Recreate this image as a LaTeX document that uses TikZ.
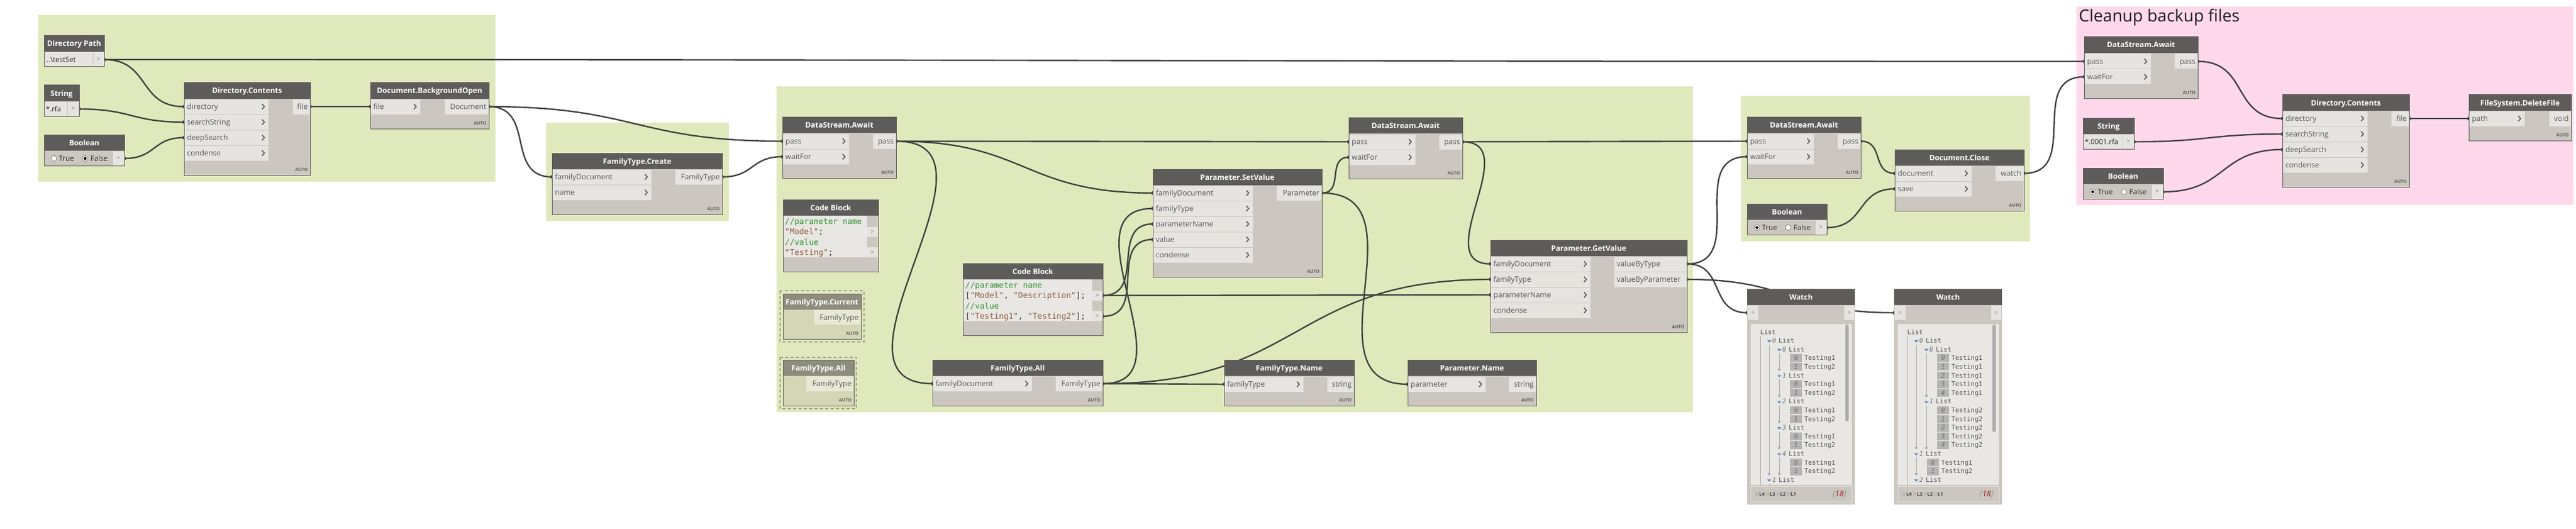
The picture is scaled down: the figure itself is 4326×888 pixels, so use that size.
\documentclass[tikz,border=0pt]{standalone}
\usepackage{fontspec}
\setmainfont{Open Sans}
\setmonofont{DejaVu Sans Mono}
\usetikzlibrary{calc}
\pgfdeclarelayer{grp}
\pgfdeclarelayer{wires}
\pgfsetlayers{grp,wires,main}

\definecolor{grpgreen}{RGB}{224,233,188}
\definecolor{grppink}{RGB}{255,217,235}
\definecolor{hdr}{RGB}{94,92,90}
\definecolor{bdy}{RGB}{203,198,191}
\definecolor{prt}{RGB}{229,228,224}
\definecolor{ptxt}{RGB}{85,85,85}
\definecolor{wirec}{RGB}{64,64,64}
\definecolor{codebg}{RGB}{233,231,228}
\definecolor{cgreen}{RGB}{46,150,46}
\definecolor{cbrown}{RGB}{140,90,55}
\definecolor{fzhdr}{RGB}{142,141,125}
\definecolor{fzbdy}{RGB}{213,214,181}
\definecolor{fzprt}{RGB}{231,232,214}
\definecolor{fzdash}{RGB}{155,156,138}
\definecolor{idxbox}{RGB}{180,180,180}
\definecolor{tric}{RGB}{90,140,200}
\definecolor{darkred}{RGB}{165,20,20}
\definecolor{tlinec}{RGB}{170,170,170}

\tikzset{
  headtext/.style={text=white, font=\bfseries\fontsize{12.5}{14}\selectfont, inner sep=0pt},
  porttext/.style={text=ptxt, font=\fontsize{12.5}{14}\selectfont, inner sep=0pt},
  valtext/.style={text=black!85, font=\fontsize{12}{14}\selectfont, inner sep=0pt},
  gttext/.style={text=black!55, font=\fontsize{10}{12}\selectfont, inner sep=0pt},
  autotext/.style={text=hdr, font=\bfseries\fontsize{7.5}{8}\selectfont, inner sep=0pt},
  chev/.style={draw=ptxt, line width=1.6pt},
  wire/.style={draw=wirec, line width=2.4pt},
  nborder/.style={draw=hdr, line width=1pt},
  codetext/.style={text=black!80, font=\ttfamily\fontsize{13.4}{15}\selectfont, inner sep=0pt},
  wtext/.style={text=ptxt, font=\ttfamily\fontsize{10.8}{12}\selectfont, inner sep=0pt},
  widx/.style={text=black!55, font=\ttfamily\itshape\fontsize{10.8}{12}\selectfont, inner sep=0pt},
  tline/.style={draw=tlinec, line width=1pt},
  radio/.style={circle, draw=black!60, fill=white, minimum size=9.5pt, inner sep=0pt, line width=0.6pt},
}

% node body with header
\newcommand{\NodeBox}[6]{%
  \fill[bdy] (#2,#3) rectangle (#4,#5);
  \fill[hdr] (#2,#3) rectangle (#4,#3+27);
  \node[headtext, anchor=base] (#1) at ({(#2+#4)/2},#3+18) {#6};
}
\newcommand{\NodeFrame}[4]{\draw[nborder] (#1,#2) rectangle (#3,#4);}
\newcommand{\InPort}[5]{%
  \fill[prt] (#2+1,#3-12.5) rectangle (#4,#3+12.5);
  \node[porttext, anchor=base west] (#1-l) at (#2+5,#3+4.5) {#5};
  \draw[chev] (#4-11,#3-4.5) -- (#4-7,#3) -- (#4-11,#3+4.5);
  \coordinate (#1) at (#2,#3);
}
\newcommand{\OutPort}[5]{%
  \fill[prt] (#2,#3-12.5) rectangle (#4-1,#3+12.5);
  \node[porttext, anchor=base east] (#1-l) at (#4-4,#3+4.5) {#5};
  \coordinate (#1) at (#4,#3);
}
\newcommand{\OutPortL}[5]{%
  \fill[prt] (#2,#3-12.5) rectangle (#4-1,#3+12.5);
  \node[porttext, anchor=base west] (#1-l) at (#2+4,#3+4.5) {#5};
  \coordinate (#1) at (#4,#3);
}
\newcommand{\AutoTag}[3]{\node[autotext, anchor=base east] (#1) at (#2-4,#3-7) {AUTO};}
% boolean node body: name, x1, top, x2, bottom, trueOn(1/0)
\newcommand{\BoolNode}[6]{%
  \NodeBox{#1}{#2}{#3}{#4}{#5}{Boolean}
  \fill[prt] (#4-19,#3+27.5) rectangle (#4-1,#5-0.5);
  \node[gttext] (#1-g) at (#4-10,#3+39.5) {>};
  \node[radio] (#1-rt) at (#2+16.5,#3+40) {};
  \node[valtext, anchor=base west] (#1-t) at (#2+25,#3+44.5) {True};
  \node[radio] (#1-rf) at (#2+69,#3+40) {};
  \node[valtext, anchor=base west] (#1-f) at (#2+78,#3+44.5) {False};
  \ifnum#6=1 \fill[black] (#1-rt) circle[radius=2.4pt];\else\fill[black] (#1-rf) circle[radius=2.4pt];\fi
  \coordinate (#1-out) at (#4,#3+40);
  \NodeFrame{#2}{#3}{#4}{#5}
}
% string node: name, x1, top, x2, value
\newcommand{\StrNode}[5]{%
  \NodeBox{#1}{#2}{#3}{#4}{#3+52}{String}
  \fill[prt] (#2+1,#3+27.5) rectangle (#4-20.5,#3+51.5);
  \node[valtext, anchor=base west] (#1-v) at (#2+3,#3+44) {#5};
  \fill[prt] (#4-19.5,#3+27.5) rectangle (#4-1,#3+51.5);
  \node[gttext] (#1-g) at (#4-10,#3+39.5) {>};
  \coordinate (#1-out) at (#4,#3+40);
  \NodeFrame{#2}{#3}{#4}{#3+52}
}
% DataStream.Await: name, x1, top
\newcommand{\AwaitNode}[3]{%
  \NodeBox{#1}{#2}{#3}{#2+191}{#3+103}{DataStream.Await}
  \InPort{#1-pass}{#2}{#3+41}{#2+112}{pass}
  \InPort{#1-wait}{#2}{#3+67}{#2+112}{waitFor}
  \OutPort{#1-out}{#2+152}{#3+41}{#2+191}{pass}
  \AutoTag{#1-auto}{#2+191}{#3+103}
  \NodeFrame{#2}{#3}{#2+191}{#3+103}
}
% Directory.Contents: name, x1, top, x2, inputs right edge, file box left
\newcommand{\DirNode}[6]{%
  \NodeBox{#1}{#2}{#3}{#4}{#3+155}{Directory.Contents}
  \InPort{#1-dir}{#2}{#3+40}{#5}{directory}
  \InPort{#1-search}{#2}{#3+66}{#5}{searchString}
  \InPort{#1-deep}{#2}{#3+92}{#5}{deepSearch}
  \InPort{#1-cond}{#2}{#3+118}{#5}{condense}
  \OutPort{#1-file}{#6}{#3+40}{#4}{file}
  \AutoTag{#1-auto}{#4}{#3+155}
  \NodeFrame{#2}{#3}{#4}{#3+155}
}
% watch helpers (row index -> y)
\newcommand{\WLst}[4]{%
  \pgfmathsetmacro\wy{557+14.6*(#3)}%
  \fill[tric] (#2-3.5,\wy-0.5) -- (#2+3.5,\wy-0.5) -- (#2,\wy+3.5) -- cycle;
  \node[widx, anchor=base west] (#1i) at (#2+5,\wy+4) {#4};
  \node[wtext, anchor=base west] (#1) at (#2+16,\wy+4) {List};
}
\newcommand{\WItem}[5]{%
  \pgfmathsetmacro\wy{557+14.6*(#3)}%
  \fill[idxbox] (#2,\wy-6.5) rectangle (#2+20,\wy+7);
  \node[widx, anchor=base] (#1i) at (#2+10,\wy+4) {#4};
  \node[wtext, anchor=base west] (#1) at (#2+24,\wy+4) {#5};
}
\newcommand{\TLine}[3]{%
  \pgfmathsetmacro\ta{557+14.6*(#2)+7}%
  \pgfmathsetmacro\tb{557+14.6*(#3)+5}%
  \draw[tline] (#1,\ta) -- (#1,\tb); \fill[tlinec] (#1,\tb) circle[radius=2.2pt];}
% watch frame: name, x0
\newcommand{\WatchNode}[2]{%
  \NodeBox{#1}{#2}{485}{#2+181}{847}{Watch}
  \fill[prt] (#2+1,512.5) rectangle (#2+19,537);
  \node[gttext] (#1-gi) at (#2+10,525) {>};
  \fill[prt] (#2+163,512.5) rectangle (#2+180,537);
  \node[gttext] (#1-go) at (#2+171.5,525) {>};
  \coordinate (#1-in) at (#2,525);
  \coordinate (#1-out) at (#2+181,525);
  \fill[codebg] (#2+6,544) rectangle (#2+176,814);
  \draw[draw=black!12, fill=bdy] (#2+6,816) rectangle (#2+176,842);
  \node[anchor=base west, inner sep=0pt, font=\bfseries\fontsize{8}{9}\selectfont, text=black!75] (#1-lv) at (#2+13,832)
    {{\color{black!30}@}L4\,{\color{black!30}@}L3\,{\color{black!30}@}L2\,{\color{black!30}@}L1};
  \node[anchor=base east, inner sep=0pt, font=\itshape\fontsize{13}{14}\selectfont] (#1-cnt) at (#2+167,833)
    {{\color{black!45}\{}{\color{darkred}18}{\color{black!45}\}}};
}

\begin{document}
\begin{tikzpicture}[x=1pt,y=-1pt]
\useasboundingbox (0,0) rectangle (4326,888);

% ---------------- groups
\begin{pgfonlayer}{grp}
\fill[white] (0,0) rectangle (4326,888);
\fill[grpgreen] (64,25) rectangle (832,305);
\fill[grpgreen] (917,206) rectangle (1224,371);
\fill[grpgreen] (1304,145) rectangle (2843,692);
\fill[grpgreen] (2924,161) rectangle (3409,405);
\fill[grppink] (3487,11) rectangle (4322,344);
\end{pgfonlayer}
\node[anchor=base west, inner sep=0pt, font=\fontsize{28}{30}\selectfont, text=black!88] (title) at (3491,37) {Cleanup backup files};

% ---------------- left group
\NodeBox{dirpath}{74}{60}{175}{112}{Directory Path}
\fill[prt] (75,87.5) rectangle (155.5,111.5);
\node[valtext, anchor=base west] (dirpath-v) at (78,104.5) {..\textbackslash testSet};
\fill[prt] (156.5,87.5) rectangle (174.5,111.5);
\node[gttext] (dirpath-g) at (165.5,99.5) {>};
\coordinate (dirpath-out) at (175,100);
\NodeFrame{74}{60}{175}{112}

\StrNode{str1}{74}{143}{133}{*.rfa}
\BoolNode{bool1}{74}{226}{209}{278}{0}
\DirNode{dc1}{309}{139}{521}{451}{492}

\NodeBox{dbo}{622}{139}{821}{216}{Document.BackgroundOpen}
\InPort{dbo-file}{622}{179}{706}{file}
\OutPort{dbo-doc}{747}{179}{821}{Document}
\AutoTag{dbo-auto}{821}{216}
\NodeFrame{622}{139}{821}{216}

% ---------------- FamilyType.Create group
\NodeBox{ftc}{927}{257}{1213}{360}{FamilyType.Create}
\InPort{ftc-doc}{927}{297}{1094}{familyDocument}
\InPort{ftc-name}{927}{323}{1094}{name}
\OutPort{ftc-out}{1134}{297}{1213}{FamilyType}
\AutoTag{ftc-auto}{1213}{360}
\NodeFrame{927}{257}{1213}{360}

% ---------------- big group
\AwaitNode{aw1}{1314}{196}

% code block 1
\NodeBox{cb1}{1315}{335}{1475}{456}{Code Block}
\fill[codebg] (1316,362) rectangle (1456,432);
\fill[prt] (1456,380.5) rectangle (1474,397.5);
\node[gttext] (cb1-g1) at (1465,389) {>};
\fill[prt] (1456,415) rectangle (1474,432);
\node[gttext] (cb1-g2) at (1465,423.5) {>};
\node[codetext, anchor=base west] (cb1-l1) at (1318,376.5) {\color{cgreen}//parameter name};
\node[codetext, anchor=base west] (cb1-l2) at (1318,393.5) {{\color{cbrown}"Model"};};
\node[codetext, anchor=base west] (cb1-l3) at (1318,411) {\color{cgreen}//value};
\node[codetext, anchor=base west] (cb1-l4) at (1318,428.5) {{\color{cbrown}"Testing"};};
\NodeFrame{1315}{335}{1475}{456}

% frozen FamilyType.Current
\draw[fzdash, line width=2.5pt, dash pattern=on 5pt off 4pt] (1310,488) rectangle (1451,574);
\fill[fzbdy] (1315,493) rectangle (1446,569);
\fill[fzhdr] (1315,493) rectangle (1446,520);
\node[headtext, anchor=base] (ftcur) at (1380.5,511) {FamilyType.Current};
\fill[fzprt] (1367,520) rectangle (1445,545);
\node[porttext, anchor=base east] (ftcur-l) at (1442,537) {FamilyType};
\node[autotext, anchor=base east] (ftcur-auto) at (1442,562) {AUTO};
\NodeFrame{1315}{493}{1446}{569}

% frozen FamilyType.All
\draw[fzdash, line width=2.5pt, dash pattern=on 5pt off 4pt] (1310,600) rectangle (1438,686);
\fill[fzbdy] (1315,604) rectangle (1434,681);
\fill[fzhdr] (1315,604) rectangle (1434,631);
\node[headtext, anchor=base] (ftall0) at (1374.5,622) {FamilyType.All};
\fill[fzprt] (1354,631.5) rectangle (1433,657);
\node[porttext, anchor=base east] (ftall0-l) at (1430,648.5) {FamilyType};
\node[autotext, anchor=base east] (ftall0-auto) at (1430,674) {AUTO};
\NodeFrame{1315}{604}{1434}{681}

% code block 2
\NodeBox{cb2}{1617}{442}{1852}{563}{Code Block}
\fill[codebg] (1618,469) rectangle (1834,539);
\fill[prt] (1834,487.5) rectangle (1851,504.5);
\node[gttext] (cb2-g1) at (1842.5,496) {>};
\fill[prt] (1834,522) rectangle (1851,539);
\node[gttext] (cb2-g2) at (1842.5,530.5) {>};
\coordinate (cb2-o1) at (1852,496);
\coordinate (cb2-o2) at (1852,531);
\node[codetext, anchor=base west] (cb2-l1) at (1621,483.5) {\color{cgreen}//parameter name};
\node[codetext, anchor=base west] (cb2-l2) at (1621,500.5) {[{\color{cbrown}"Model"}, {\color{cbrown}"Description"}];};
\node[codetext, anchor=base west] (cb2-l3) at (1621,518) {\color{cgreen}//value};
\node[codetext, anchor=base west] (cb2-l4) at (1621,535.5) {[{\color{cbrown}"Testing1"}, {\color{cbrown}"Testing2"}];};
\NodeFrame{1617}{442}{1852}{563}

% FamilyType.All
\NodeBox{ftall}{1566}{604}{1852}{681}{FamilyType.All}
\InPort{ftall-doc}{1566}{644}{1733}{familyDocument}
\OutPort{ftall-out}{1773}{644}{1852}{FamilyType}
\AutoTag{ftall-auto}{1852}{681}
\NodeFrame{1566}{604}{1852}{681}

% Parameter.SetValue
\NodeBox{psv}{1936}{284}{2220}{465}{Parameter.SetValue}
\InPort{psv-doc}{1936}{324}{2104}{familyDocument}
\InPort{psv-type}{1936}{350}{2104}{familyType}
\InPort{psv-pname}{1936}{376}{2104}{parameterName}
\InPort{psv-value}{1936}{402}{2104}{value}
\InPort{psv-cond}{1936}{428}{2104}{condense}
\OutPort{psv-out}{2144}{324}{2220}{Parameter}
\AutoTag{psv-auto}{2220}{465}
\NodeFrame{1936}{284}{2220}{465}

\AwaitNode{aw2}{2265}{197}

% Parameter.GetValue
\NodeBox{pgv}{2503}{403}{2833}{558}{Parameter.GetValue}
\InPort{pgv-doc}{2503}{443}{2671}{familyDocument}
\InPort{pgv-type}{2503}{469}{2671}{familyType}
\InPort{pgv-pname}{2503}{495}{2671}{parameterName}
\InPort{pgv-cond}{2503}{521}{2671}{condense}
\OutPortL{pgv-vbt}{2711}{443}{2833}{valueByType}
\OutPortL{pgv-vbp}{2711}{469}{2833}{valueByParameter}
\AutoTag{pgv-auto}{2833}{558}
\NodeFrame{2503}{403}{2833}{558}

% FamilyType.Name
\NodeBox{ftn}{2056}{604}{2274}{681}{FamilyType.Name}
\InPort{ftn-type}{2056}{645}{2189}{familyType}
\OutPort{ftn-out}{2229}{645}{2274}{string}
\AutoTag{ftn-auto}{2274}{681}
\NodeFrame{2056}{604}{2274}{681}

% Parameter.Name
\NodeBox{pn}{2364}{604}{2580}{681}{Parameter.Name}
\InPort{pn-par}{2364}{645}{2495}{parameter}
\OutPort{pn-out}{2534}{645}{2580}{string}
\AutoTag{pn-auto}{2580}{681}
\NodeFrame{2364}{604}{2580}{681}

% ---------------- right green group
\AwaitNode{aw3}{2934}{196}
\NodeBox{dclose}{3182}{251}{3399}{354}{Document.Close}
\InPort{dclose-doc}{3182}{291}{3311}{document}
\InPort{dclose-save}{3182}{317}{3311}{save}
\OutPort{dclose-out}{3351}{291}{3399}{watch}
\AutoTag{dclose-auto}{3399}{354}
\NodeFrame{3182}{251}{3399}{354}
\BoolNode{bool2}{2934}{342}{3068}{394}{1}

% ---------------- watches
\WatchNode{w1}{2934}
\fill[black!33, rounded corners=2.5pt] (3099,545) rectangle (3104.5,707);
\begin{scope}
\clip (2940,544) rectangle (3110,814);
\node[wtext, anchor=base west] (w1root) at (2956,561) {List};
\draw[tline] (2956.5,564) -- (2956.5,820);
\WLst{w1a}{2971}{1}{0}
\TLine{2971}{1}{16}
\foreach \r/\k in {2/0,5/1,8/2,11/3,14/4}{
  \WLst{w1l\k}{2988}{\r}{\k}
  \WItem{w1i\k a}{3006}{\r+1}{0}{Testing1}
  \WItem{w1i\k b}{3006}{\r+2}{1}{Testing2}
  \TLine{2988}{\r}{\r+2}
}
\WLst{w1b}{2971}{17}{1}
\draw[tline] (2971,812) -- (2971,820);
\end{scope}

\WatchNode{w2}{3181}
\fill[black!33, rounded corners=2.5pt] (3346,545) rectangle (3351.5,725);
\begin{scope}
\clip (3187,544) rectangle (3357,814);
\node[wtext, anchor=base west] (w2root) at (3203,561) {List};
\draw[tline] (3203.5,564) -- (3203.5,820);
\WLst{w2a}{3218}{1}{0}
\TLine{3218}{1}{13}
\WLst{w2b}{3235}{2}{0}
\foreach \r/\k in {3/0,4/1,5/2,6/3,7/4}{\WItem{w2p\k}{3253}{\r}{\k}{Testing1}}
\TLine{3235}{2}{7}
\WLst{w2c}{3235}{8}{1}
\foreach \r/\k in {9/0,10/1,11/2,12/3,13/4}{\WItem{w2q\k}{3253}{\r}{\k}{Testing2}}
\TLine{3235}{8}{13}
\WLst{w2d}{3218}{14}{1}
\WItem{w2r0}{3236}{15}{0}{Testing1}
\WItem{w2r1}{3236}{16}{1}{Testing2}
\TLine{3218}{14}{16}
\WLst{w2e}{3218}{17}{2}
\end{scope}

% ---------------- pink group
\AwaitNode{aw4}{3500}{62}
\StrNode{str2}{3498}{198}{3584}{*.0001.rfa}
\BoolNode{bool3}{3498}{282}{3633}{334}{1}
\DirNode{dc2}{3833}{159}{4046}{3976}{4016}
\NodeBox{del}{4146}{159}{4318}{236}{FileSystem.DeleteFile}
\InPort{del-path}{4146}{199}{4240}{path}
\OutPort{del-out}{4281}{199}{4318}{void}
\AutoTag{del-auto}{4318}{236}
\NodeFrame{4146}{159}{4318}{236}

% ---------------- wires
\newcommand{\Wire}[2]{%
  \draw[wire] let \p1=(#1), \p2=(#2),
    \n1={max(5*veclen((\x2-\x1)/10,(\y2-\y1)/10),15)} in
    (#1) .. controls +(\n1,0) and +(-\n1,0) .. (#2);
  \fill[wirec] (#1) circle[radius=3pt];
  \fill[wirec] (#2) circle[radius=3pt];
}
\begin{pgfonlayer}{wires}
\Wire{dirpath-out}{dc1-dir}
\Wire{dirpath-out}{aw4-pass}
\Wire{str1-out}{dc1-search}
\Wire{bool1-out}{dc1-deep}
\Wire{dc1-file}{dbo-file}
\Wire{dbo-doc}{ftc-doc}
\Wire{dbo-doc}{aw1-pass}
\Wire{ftc-out}{aw1-wait}
\Wire{aw1-out}{ftall-doc}
\Wire{aw1-out}{psv-doc}
\Wire{aw1-out}{aw2-pass}
\Wire{ftall-out}{psv-type}
\Wire{ftall-out}{pgv-type}
\Wire{ftall-out}{ftn-type}
\Wire{cb2-o1}{psv-pname}
\Wire{cb2-o1}{pgv-pname}
\Wire{cb2-o2}{psv-value}
\Wire{psv-out}{aw2-wait}
\Wire{psv-out}{pn-par}
\Wire{aw2-out}{pgv-doc}
\Wire{aw2-out}{aw3-pass}
\Wire{pgv-vbt}{aw3-wait}
\Wire{pgv-vbt}{w1-in}
\Wire{pgv-vbp}{w2-in}
\Wire{aw3-out}{dclose-doc}
\Wire{bool2-out}{dclose-save}
\Wire{dclose-out}{aw4-wait}
\Wire{aw4-out}{dc2-dir}
\Wire{str2-out}{dc2-search}
\Wire{bool3-out}{dc2-deep}
\Wire{dc2-file}{del-path}
\end{pgfonlayer}
\end{tikzpicture}
\end{document}
